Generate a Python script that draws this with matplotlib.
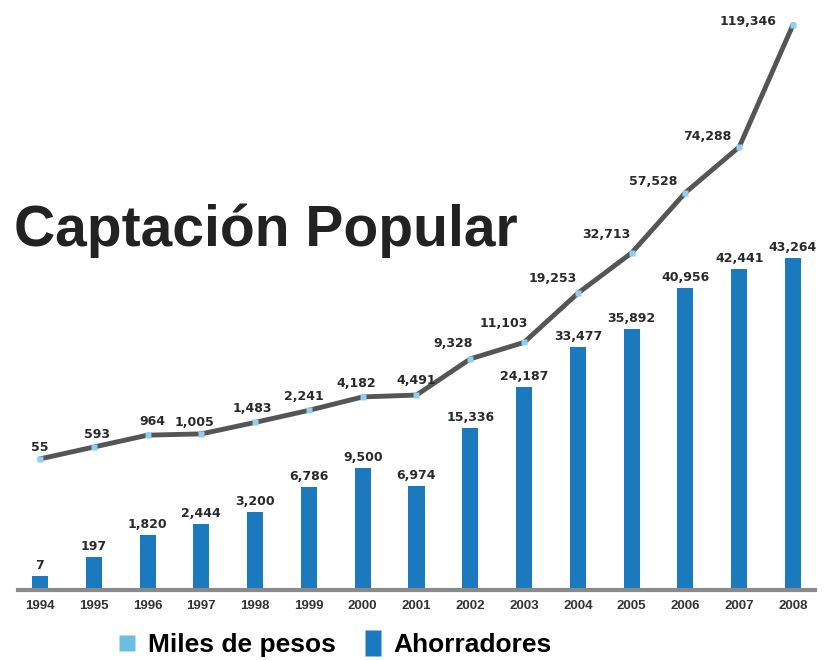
import numpy as np
import matplotlib
matplotlib.use('Agg')
import matplotlib.pyplot as plt
from matplotlib.lines import Line2D

# ---------------- data ----------------
years = ['1994', '1995', '1996', '1997', '1998', '1999', '2000', '2001',
         '2002', '2003', '2004', '2005', '2006', '2007', '2008']
ahorradores = [7, 197, 1820, 2444, 3200, 6786, 9500, 6974,
               15336, 24187, 33477, 35892, 40956, 42441, 43264]
miles_pesos = [55, 593, 964, 1005, 1483, 2241, 4182, 4491,
               9328, 11103, 19253, 32713, 57528, 74288, 119346]

# ------------- non-linear display scales (infographic style) -------------
bar_knots_v = [0, 5, 200, 2000, 3000, 7000, 10000, 15000, 25000, 34000, 36000, 41000, 43500, 70000]
bar_knots_h = [0, 14, 33, 58, 77, 104, 126, 160, 207, 245, 262, 302, 335, 685]
line_knots_v = [-1000, 0, 500, 1000, 1500, 2000, 4000, 5000, 9000, 11000, 19000, 33000, 57000, 75000, 120000, 140000]
line_knots_h = [0, 130, 140, 156, 168, 178, 192, 198, 228, 247, 296, 338, 396, 445, 567, 621]


def make_scale(kv, kh):
    kv = np.asarray(kv, float)
    kh = np.asarray(kh, float)
    fwd = lambda v: np.interp(v, kv, kh)
    inv = lambda h: np.interp(h, kh, kv)
    return fwd, inv


bar_fwd, bar_inv = make_scale(bar_knots_v, bar_knots_h)
line_fwd, line_inv = make_scale(line_knots_v, line_knots_h)

# label offsets (pixels) for the line annotations
line_label_offsets = [(0, 11), (3, 13), (5, 14), (-7, 11), (-3, 14), (-5, 14), (-6, 13), (0, 15),
                      (-17, 15), (-20, 19), (-25, 15), (-25, 18), (-32, 11), (-32, 10), (-45, 3)]

BAR_COLOR = '#1B79BE'
LIGHT_BLUE = '#8FD0F0'
LEG_LIGHT = '#6CBCE3'
LINE_COLOR = '#555555'
TEXT_COLOR = '#2a2a2a'
ARIAL = ['Liberation Sans', 'DejaVu Sans']

W, H = 829, 660
fig = plt.figure(figsize=(W / 100, H / 100), dpi=100)
fig.patch.set_facecolor('white')

ax_left, ax_right = 18, 815
ax_bottom_px, ax_height_px = 70, 580
ax = fig.add_axes([ax_left / W, ax_bottom_px / H, (ax_right - ax_left) / W, ax_height_px / H])

x = np.arange(len(years))

# bars
ax.set_yscale('function', functions=(bar_fwd, bar_inv))
ax.set_ylim(0, bar_inv(ax_height_px))
ax.bar(x, ahorradores, width=0.3, color=BAR_COLOR, zorder=2)
for xi, v in zip(x, ahorradores):
    ax.annotate(f'{v:,}', (xi, v), xytext=(0, 4), textcoords='offset pixels',
                ha='center', va='bottom', fontsize=9, fontweight='bold', color=TEXT_COLOR)

ax.set_xlim(-0.409, len(years) - 1 + 0.409)
ax.set_xticks(x)
ax.set_xticklabels(years, fontsize=9.5, fontweight='bold', family=ARIAL, color='#333333')
ax.tick_params(axis='x', length=0, pad=7)
ax.set_yticks([])
ax.yaxis.set_minor_locator(matplotlib.ticker.NullLocator())
for s in ['left', 'right', 'top']:
    ax.spines[s].set_visible(False)
ax.spines['bottom'].set_color('#8a8a8a')
ax.spines['bottom'].set_linewidth(3)
ax.spines['bottom'].set_zorder(3)
ax.patch.set_alpha(0)

# line on twin axis
ax2 = ax.twinx()
ax2.set_yscale('function', functions=(line_fwd, line_inv))
ax2.set_ylim(-1000, line_inv(ax_height_px))
ax2.plot(x, miles_pesos, color=LINE_COLOR, lw=3.5, zorder=3, solid_capstyle='round')
ax2.plot(x, miles_pesos, ls='none', marker='s', ms=4, color=LIGHT_BLUE, mec='none', zorder=4)
for xi, v, (dx, dy) in zip(x, miles_pesos, line_label_offsets):
    ax2.annotate(f'{v:,}', (xi, v), xytext=(dx, dy), textcoords='offset pixels',
                 ha='center', va='center', fontsize=9, fontweight='bold', color=TEXT_COLOR)
ax2.set_yticks([])
ax2.yaxis.set_minor_locator(matplotlib.ticker.NullLocator())
for s in ['left', 'right', 'top', 'bottom']:
    ax2.spines[s].set_visible(False)

# title
fig.text(14 / W, 1 - 246 / H, 'Captación Popular', fontsize=41, fontweight='bold',
         family=ARIAL, color='#222222', va='baseline', ha='left')

# legend
tall_rect = [(-0.4, -0.65), (0.4, -0.65), (0.4, 0.65), (-0.4, 0.65)]
handles = [Line2D([], [], ls='none', marker='s', ms=12, color=LEG_LIGHT, mec='none'),
           Line2D([], [], ls='none', marker=tall_rect, ms=19, color=BAR_COLOR, mec='none')]
fig.legend(handles, ['Miles de pesos', 'Ahorradores'], loc='center',
           bbox_to_anchor=(334 / W, 15 / H), ncol=2, frameon=False,
           prop={'family': ARIAL, 'weight': 'bold', 'size': 19},
           handlelength=0.8, columnspacing=1.0, handletextpad=0.4)

fig.savefig('out.png', dpi=100, facecolor='white')
